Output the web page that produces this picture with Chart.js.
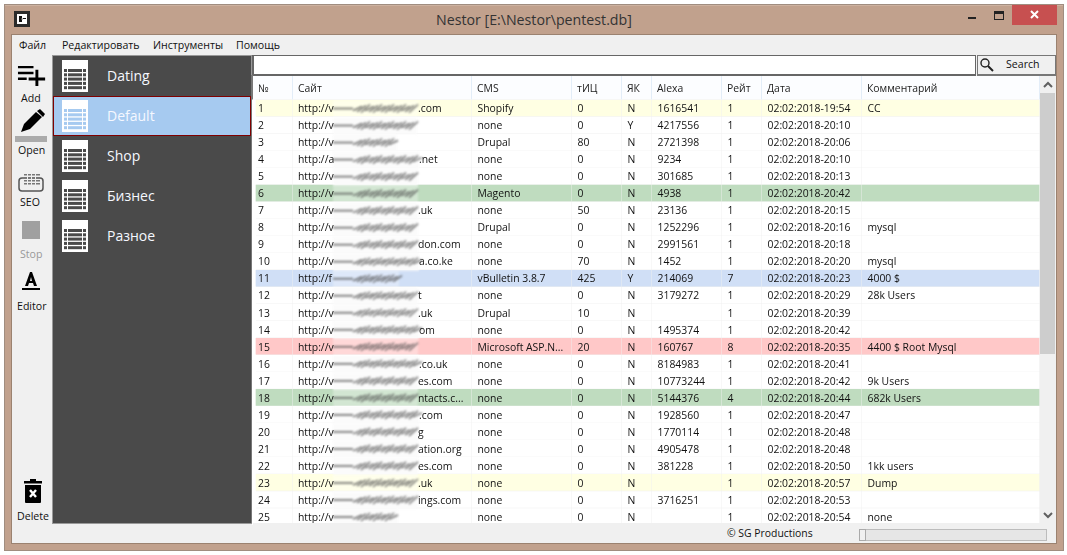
<!DOCTYPE html>
<html><head><meta charset="utf-8">
<style>
html,body{margin:0;padding:0;background:#fff;width:1067px;height:555px;overflow:hidden;font-family:"Open Sans","Noto Sans",sans-serif}
div,svg,canvas{position:absolute}
.t{position:absolute;white-space:nowrap;line-height:1;color:#111}
</style></head><body>
<div id="frame" style="left:4px;top:4px;width:1058px;height:545px;background:#c1a18d;border:1px solid #a08d80"></div>
<div style="left:5px;top:5px;width:1058px;height:1px;background:#cdb2a0"></div>
<div id="client" style="left:12px;top:35px;width:1044px;height:508px;background:#f0f0f0;outline:1px solid #9b8270"></div>
<svg style="left:14px;top:11px" width="16" height="16"><rect width="16" height="16" fill="#2b2b2b"/><path d="M3 3h10v10H3z" fill="#fff"/><path d="M5 5h3v2h-1l2 1-2 1h1v2H5zM9 7h3v1H9z" fill="#111"/></svg>
<div class="t" style="left:436px;top:13px;font-size:14.2px;color:#333">Nestor [E:\Nestor\pentest.db]</div>
<div style="left:968px;top:17px;width:8px;height:2px;background:#222"></div>
<div style="left:994px;top:11px;width:8px;height:5px;border:1.5px solid #222;border-top-width:3px"></div>
<div style="left:1012px;top:5px;width:45px;height:20px;background:#c75050"></div>
<svg style="left:1030px;top:10px" width="10" height="10"><path d="M1 1l7 7M8 1l-7 7" stroke="#fff" stroke-width="2"/></svg>

<div class="t" style="left:19px;top:40px;font-size:10.6px">Файл</div>
<div class="t" style="left:62px;top:40px;font-size:10.6px">Редактировать</div>
<div class="t" style="left:153px;top:40px;font-size:10.6px">Инструменты</div>
<div class="t" style="left:236px;top:40px;font-size:10.6px">Помощь</div>

<svg style="left:17px;top:64px" width="30" height="22"><path d="M1 2h16v2.5H1zM1 8h16v2.5H1zM1 14h9v2.5H1zM19 6h3v8h7v3h-7v7h-3v-7h-7v-3h7z" fill="#000" transform="scale(.97)"/></svg>
<div class="t" style="left:21px;top:93px;font-size:10.6px">Add</div>
<svg style="left:19px;top:109px" width="26" height="24"><path d="M2 23l3-8L17 3l6 5L11 20z" fill="#000"/><path d="M18 2l3-2 5 5-2 3z" fill="#000"/></svg>
<div style="left:15px;top:136px;width:32px;height:6px;background:#ababab"></div>
<div class="t" style="left:18px;top:145px;font-size:10.6px">Open</div>
<svg style="left:18px;top:172px" width="26" height="20"><rect x="1" y="6" width="24" height="13" rx="3" fill="none" stroke="#555" stroke-width="1.5"/><g fill="#777"><path d="M6 2h16v1.5H6zM6 5h16v1.5H6zM6 8h16v1.5H6zM6 11h16v1.5H6z"/></g><g fill="#f0f0f0"><path d="M9 2h1v11H9zM13 2h1v11h-1zM17 2h1v11h-1z"/></g></svg>
<div class="t" style="left:20px;top:197px;font-size:10.6px">SEO</div>
<div style="left:22px;top:221px;width:18px;height:18px;background:#a0a0a0"></div>
<div class="t" style="left:20px;top:249px;font-size:10.6px;color:#999">Stop</div>
<svg style="left:21px;top:270px" width="20" height="22"><path d="M4 16L9 2h2l5 14h-3l-1-3H8l-1 3zM9 11h2l-1-4z" fill="#000"/><rect x="1" y="18" width="18" height="2" fill="#000"/></svg>
<div class="t" style="left:17px;top:301px;font-size:10.6px">Editor</div>
<svg style="left:23px;top:479px" width="20" height="26"><rect x="1" y="2" width="18" height="2.5" fill="#000"/><rect x="7" y="0" width="6" height="2" fill="#000"/><path d="M2 6h16v17a1 1 0 0 1-1 1H3a1 1 0 0 1-1-1z" fill="#000"/><path d="M7 11l6 7M13 11l-6 7" stroke="#fff" stroke-width="2.4"/></svg>
<div class="t" style="left:17px;top:511px;font-size:10.6px">Delete</div>

<div id="side" style="left:52px;top:55px;width:198px;height:467px;background:#4a4a4a;border:1px solid #999"></div>
<div style="left:53px;top:96px;width:196px;height:38px;background:#a6caf0;border:1px solid #800000"></div>
<div id="sideItems"></div>

<div style="left:252px;top:55px;width:721px;height:18px;background:#fff;border:1px solid #666;border-width:1px 1px 2px 2px"></div>
<div style="left:977px;top:55px;width:77px;height:18px;background:#f0f0f0;border:1px solid #777;border-bottom-width:2px"></div>
<svg style="left:979px;top:57px" width="16" height="16"><circle cx="6" cy="6" r="4" fill="none" stroke="#222" stroke-width="1.4"/><path d="M9 9l5 5" stroke="#222" stroke-width="2"/></svg>
<div class="t" style="left:1006px;top:59px;font-size:10.6px">Search</div>

<div style="left:252px;top:76px;width:788px;height:24px;background:#fcfdff"></div>
<div style="left:251px;top:75px;width:2px;height:448px;background:#777"></div>

<div style="left:252px;top:76px;width:788px;height:449px;overflow:hidden"><canvas id="c" style="left:0;top:0"></canvas></div>

<div style="left:1040px;top:76px;width:16px;height:447px;background:#f0f0f0"></div>
<div style="left:1040px;top:93px;width:15px;height:261px;background:#cdcdcd"></div>
<svg style="left:1043px;top:81px" width="10" height="8"><path d="M1 6l4-4 4 4" fill="none" stroke="#606060" stroke-width="2"/></svg>
<svg style="left:1043px;top:511px" width="10" height="8"><path d="M1 2l4 4 4-4" fill="none" stroke="#606060" stroke-width="2"/></svg>

<div style="left:253px;top:523px;width:803px;height:20px;background:#f0f0f0"></div>
<div class="t" style="left:727px;top:528px;font-size:10.4px">© SG Productions</div>
<div style="left:859px;top:529px;width:186px;height:10px;background:#e6e6e6;border:1px solid #bcbcbc"></div>
<div style="left:859px;top:529px;width:5px;height:10px;background:#f0f0f0;border:1px solid #aaa"></div>

<script src="https://cdn.jsdelivr.net/npm/chart.js@4/dist/chart.umd.js"></script>
<script>
// Data
const rowNumbers = ["1","2","3","4","5","6","7","8","9","10","11","12","13","14","15","16","17","18","19","20","21","22","23","24","25"];
const sitesVisibleStart = ["http://v","http://v","http://v","http://a","http://v","http://v","http://v","http://v","http://v","http://v","http://f","http://v","http://v","http://v","http://v","http://v","http://v","http://v","http://v","http://v","http://v","http://v","http://v","http://v","http://v"];
const sitesVisibleEnd = [".com","","",".net","","",".uk","","don.com","a.co.ke","","t",".uk","om","",".co.uk","es.com","ntacts.c...",".com","g","ation.org","es.com",".uk","ings.com",""];
const cms = ["Shopify","none","Drupal","none","none","Magento","none","Drupal","none","none","vBulletin 3.8.7","none","Drupal","none","Microsoft ASP.N...","none","none","none","none","none","none","none","none","none","none"];
const tic = ["0","0","80","0","0","0","50","0","0","70","425","0","10","0","20","0","0","0","0","0","0","0","0","0","0"];
const yandexCatalog = ["N","Y","N","N","N","N","N","N","N","N","Y","N","N","N","N","N","N","N","N","N","N","N","N","N","N"];
const alexa = ["1616541","4217556","2721398","9234","301685","4938","23136","1252296","2991561","1452","214069","3179272","","1495374","160767","8184983","10773244","5144376","1928560","1770114","4905478","381228","","3716251",""];
const rating = ["1","1","1","1","1","1","1","1","1","1","7","1","1","1","8","1","1","4","1","1","1","1","1","1","1"];
const dates = ["02:02:2018-19:54","02:02:2018-20:10","02:02:2018-20:06","02:02:2018-20:10","02:02:2018-20:13","02:02:2018-20:42","02:02:2018-20:15","02:02:2018-20:16","02:02:2018-20:18","02:02:2018-20:20","02:02:2018-20:23","02:02:2018-20:29","02:02:2018-20:39","02:02:2018-20:42","02:02:2018-20:35","02:02:2018-20:41","02:02:2018-20:42","02:02:2018-20:44","02:02:2018-20:47","02:02:2018-20:48","02:02:2018-20:48","02:02:2018-20:50","02:02:2018-20:57","02:02:2018-20:53","02:02:2018-20:54"];
const comments = ["CC","","","","","","","mysql","","mysql","4000 $","28k Users","","","4400 $ Root Mysql","","9k Users","682k Users","","","","1kk users","Dump","","none"];
const rowStatus = ["y","","","","","g","","","","","b","","","","r","","","g","","","","","y","",""];
const headers = ["№","Сайт","CMS","тИЦ","ЯК","Alexa","Рейт","Дата","Комментарий"];
const tableNames = ["Dating","Default","Shop","Бизнес","Разное"];

// Layout of the table columns
const columnEdges = [4,41,220,320,370,400,470,510,610,788];
const statusColor = {y:"#ffffe3",g:"#bfdcbf",b:"#d0dff6",r:"#ffc8c8","":"#ffffff"};
const smudgeEnd = [166,165,145,167,166,166,166,166,166,167,147,166,166,167,166,167,166,166,167,166,166,166,166,166,146];

const textColumns = [null,null,cms,tic,yandexCatalog,alexa,rating,dates,comments];
const font = '10.4px "Open Sans"';

const cellPlugin = {
  id:"cells",
  afterDatasetsDraw(chart){
    const {ctx,scales:{x,y}} = chart;
    ctx.save();
    // redaction smudge over the site column
    rowNumbers.forEach((r,i)=>{
      const cy = y.getPixelForValue(i)+0.5;
      const x0 = x.getPixelForValue(81), x1 = x.getPixelForValue(smudgeEnd[i]);
      ctx.save();
      ctx.filter = "blur(1px)";
      ctx.fillStyle = rowStatus[i] ? "rgba(255,255,255,.3)" : "rgba(251,251,251,.95)";
      ctx.fillRect(x0,cy-8,x1-x0,17);
      ctx.strokeStyle = "rgba(70,70,70,.75)";
      ctx.lineWidth = 1.7;
      ctx.beginPath();
      ctx.moveTo(x0,cy); ctx.lineTo(x0+20,cy);
      ctx.stroke();
      ctx.lineWidth = 1.5;
      const n = Math.floor((x1-x0-22)/4);
      for(let k=0;k<n;k++){
        const px = x0+20+k*4, h = 2+((k*7+i*3)%3);
        ctx.beginPath();ctx.moveTo(px,cy+h);ctx.lineTo(px+9,cy-h);ctx.stroke();
      }
      ctx.restore();
    });
    ctx.font = font;
    ctx.fillStyle = "#111";
    ctx.textBaseline = "middle";
    ctx.textAlign = "left";
    rowNumbers.forEach((r,i)=>{
      const cy = y.getPixelForValue(i)+1.3;
      ctx.fillText(sitesVisibleStart[i], x.getPixelForValue(46), cy);
      ctx.fillText(sitesVisibleEnd[i], x.getPixelForValue(smudgeEnd[i]), cy);
      textColumns.forEach((col,c)=>{
        if(!col) return;
        ctx.fillText(col[i], x.getPixelForValue(columnEdges[c]+5.5), cy);
      });
    });
    ctx.restore();
  }
};

const canvas = document.getElementById("c");
canvas.width = 788; canvas.height = 449;
canvas.style.width="788px"; canvas.style.height="449px";

const datasets = columnEdges.slice(0,-1).map((edge,c)=>({
  label:"column "+c,
  data:rowNumbers.map(()=>[edge,columnEdges[c+1]-1]),
  backgroundColor:rowStatus.map(s=>statusColor[s]),
  borderWidth:0,
  barThickness:16,
  grouped:false
}));

new Chart(canvas,{
  type:"bar",
  data:{labels:rowNumbers,datasets},
  plugins:[cellPlugin,{
    id:"gridBack",
    beforeDraw(chart){
      const {ctx,chartArea:a}=chart;
      ctx.save();ctx.fillStyle="#f0f0f0";ctx.fillRect(a.left+1,a.top,a.width,a.height);
      ctx.fillStyle="#fff";ctx.fillRect(a.left,a.top,4,a.height);
      ctx.fillStyle="#e3edf8";
      const xs=chart.scales.x;
      columnEdges.slice(1).forEach(e=>ctx.fillRect(xs.getPixelForValue(e)-1,0,1,a.top));
      ctx.restore();
    }
  }],
  options:{
    indexAxis:"y",
    responsive:false,
    animation:false,
    devicePixelRatio:1,
    layout:{padding:0},
    plugins:{legend:{display:false},tooltip:{enabled:false},title:{display:false}},
    scales:{
      x:{
        type:"linear",
        position:"top",
        min:0,max:788,
        grid:{display:false,drawTicks:false},
        border:{display:false},
        afterFit(s){s.height=23.5;s.paddingLeft=0;s.paddingRight=0;},
        afterBuildTicks(s){s.ticks=columnEdges.slice(0,-1).map((e,i)=>({value:e+(i===0?2:5)}));},
        ticks:{
          autoSkip:false,maxRotation:0,minRotation:0,align:"start",color:"#222",padding:4,
          font:{family:"Open Sans",size:10.4},
          callback(v,i){return headers[i];}
        }
      },
      y:{
        type:"category",
        position:"left",
        offset:true,
        grid:{display:false,drawTicks:false},
        border:{display:false},
        afterFit(s){s.width=0;s.paddingTop=0;s.paddingBottom=0;},
        ticks:{mirror:true,z:2,padding:6,labelOffset:1.3,color:"#111",autoSkip:false,font:{family:"Open Sans",size:10.4}}
      }
    }
  }
});

// Side list of tables
const side=document.getElementById("sideItems");
tableNames.forEach((n,i)=>{
  const top=60+40*i, sel=i===1, line=sel?"#a6caf0":"#4a4a4a";
  let g="";
  for(let r=0;r<5;r++) for(let c=0;c<3;c++){
    const w=[3,14,3][c];
    g+=`<rect x="${[2,6,21][c]}" y="${9+r*4.3}" width="${w}" height="3" fill="${line}"/>`;
  }
  side.insertAdjacentHTML("beforeend",`<svg style="left:62px;top:${top}px" width="26" height="32"><rect width="26" height="32" fill="#fff"/>${g}</svg><div class="t" style="left:107px;top:${top+9}px;font-size:14px;color:#f5f8ff">${n}</div>`);
});
</script>
</body></html>
